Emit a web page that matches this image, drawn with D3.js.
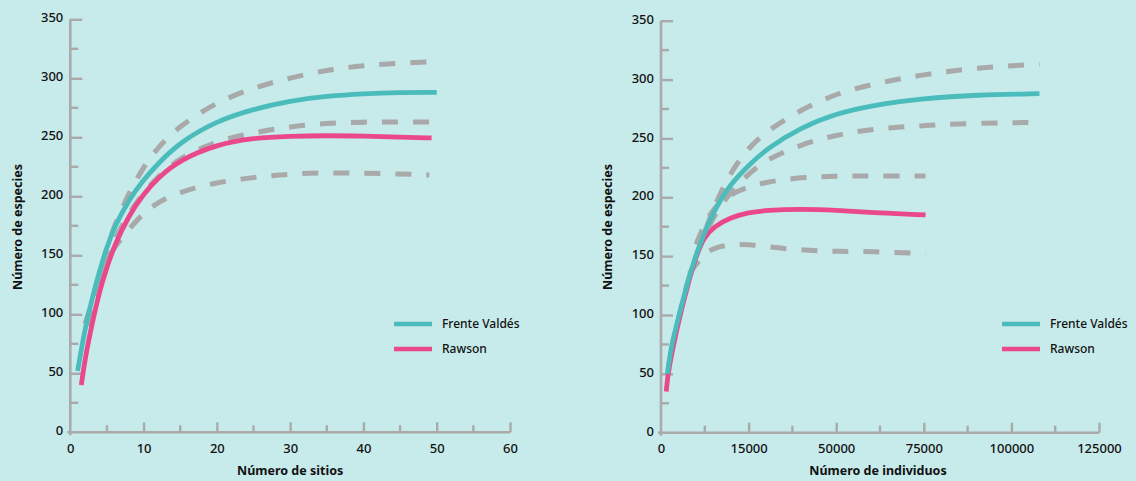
<!DOCTYPE html>
<html>
<head>
<meta charset="utf-8">
<script src="https://cdn.jsdelivr.net/npm/d3@7"></script>
<style>
  html, body { margin: 0; padding: 0; background: #c7eaea; }
  svg { display: block; font-family: "Noto Sans", "Open Sans", sans-serif; }
</style>
</head>
<body>
<div id="chart"></div>
<script>
// data
const yTicks = [0, 50, 100, 150, 200, 250, 300, 350]
const sitiosTicks = [0, 10, 20, 30, 40, 50, 60]
const individuosTicks = [0, 25000, 50000, 75000, 100000, 125000]
const individuosTickLabels = ["0", "15000", "50000", "75000", "100000", "125000"]
const seriesNames = ["Frente Valdés", "Rawson"]

// panel 1: número de sitios
const sitiosValdes = [[1,52],[2,88],[3,114],[4,137],[5,157],[6,174],[8,197],[10,214],[12,228],[15,246],[20,264],[25,274],[30,281],[35,285],[40,287],[45,288],[50,288]]
const sitiosRawson = [[1.5,40],[2,62],[3,93],[4,120],[5,140],[6,158],[8,184],[10,202],[12,216],[15,231],[20,244],[25,249.5],[30,251],[35,251.5],[40,251],[45,250],[49.3,249.5]]
const sitiosUpper = [[2,92],[3,110],[4,135],[5,157],[6,175],[8,203],[10,225],[12,242],[15,260],[20,280],[25,292],[30,300.5],[35,307],[40,311],[45,313],[50,314]]
const sitiosMiddle = [[2.5,90],[3,108],[4,133],[5,150],[6,163],[8,186],[10,203],[12,217],[15,233],[20,247],[25,254],[30,259],[35,262],[40,263],[45,263],[50,263]]
const sitiosLower = [[4,128],[5,145],[6,157],[8,172],[10,186],[12,195],[15,204],[20,212],[25,216],[30,219],[35,220],[40,219.5],[45,219],[49,218]]

// panel 2: número de individuos
const indivValdes = [[1800,50],[3000,75],[5000,98],[7500,127],[10000,152],[15000,189],[20000,212],[25000,227],[30000,241],[40000,259.5],[50000,271],[60000,278],[75000,284],[90000,287],[108000,288]]
const indivRawson = [[1500,35],[2000,52],[5000,95],[7500,124],[10000,150],[12000,165],[15000,175],[20000,183],[25000,187],[30000,189],[40000,190],[50000,189],[60000,187],[75500,185]]
const indivUpper = [[3000,70],[5000,98],[7500,128],[10000,150],[15000,192],[20000,222],[25000,242],[30000,256],[40000,274.5],[50000,288],[60000,296],[75000,304.5],[90000,310],[108000,313]]
const indivMiddle = [[10000,150],[15000,185],[20000,205],[25000,220],[30000,232],[40000,245],[50000,253],[60000,258],[75000,261],[90000,263],[106000,263.5]]
const indivLowerUpper = [[10000,160],[12500,178],[15000,191],[20000,203],[25000,209],[30000,213],[40000,217],[50000,218],[60000,218],[75500,218]]
const indivLower = [[8000,135],[10000,143],[12500,152],[15000,157],[20000,160],[25000,160],[30000,158],[40000,155],[50000,154],[60000,154],[75500,152]]

const colors = { valdes: "#4bbcbc", rawson: "#ea488a", dash: "#a9a9a9", axis: "#aaaaaa", text: "#111" }

const width = 1136
const height = 481

const svg = d3.select("#chart")
  .append("svg")
    .attr("width", width)
    .attr("height", height)

svg.append("rect")
  .attr("width", width)
  .attr("height", height)
  .attr("fill", "#c7eaea")

function drawPanel(cfg) {
  const xScale = d3.scaleLinear()
    .domain(cfg.xDomain)
    .range([cfg.left, cfg.right])

  const yScale = d3.scaleLinear()
    .domain([0, 350])
    .range([cfg.bottom, cfg.top])

  const g = svg.append("g")

  // axis lines
  g.append("line")
    .attr("x1", cfg.left).attr("x2", cfg.left)
    .attr("y1", cfg.top).attr("y2", cfg.bottom + 3)
    .attr("stroke", colors.axis).attr("stroke-width", 2.6)
  g.append("line")
    .attr("x1", cfg.left - 3).attr("x2", cfg.right)
    .attr("y1", cfg.bottom).attr("y2", cfg.bottom)
    .attr("stroke", colors.axis).attr("stroke-width", 2.6)

  // minor ticks
  const yMinor = d3.range(25, 350, 50)
  g.selectAll(".yminor")
    .data(yMinor)
    .join("line")
      .attr("x1", cfg.left).attr("x2", cfg.left + 8)
      .attr("y1", d => yScale(d)).attr("y2", d => yScale(d))
      .attr("stroke", colors.axis).attr("stroke-width", 2.4)

  const step = cfg.xTicks[1] - cfg.xTicks[0]
  const xMinor = cfg.xTicks.slice(0, -1).map(d => d + step / 2)
  g.selectAll(".xminor")
    .data(xMinor)
    .join("line")
      .attr("x1", d => xScale(d)).attr("x2", d => xScale(d))
      .attr("y1", cfg.bottom).attr("y2", cfg.bottom - 7)
      .attr("stroke", colors.axis).attr("stroke-width", 2.4)

  // major ticks + labels
  const yAxis = g.append("g")
    .attr("transform", `translate(${cfg.left},0)`)
    .call(d3.axisLeft(yScale).tickValues(yTicks).tickSize(-12).tickPadding(7))
  yAxis.select(".domain").remove()
  yAxis.selectAll(".tick line").attr("stroke", colors.axis).attr("stroke-width", 2.4)
  yAxis.selectAll(".tick text")
    .attr("dy", "0.2em")
    .attr("fill", colors.text)
    .style("font-size", "13px")
    .style("font-weight", 500)
    .style("font-family", "'Noto Sans', sans-serif")
  yAxis.selectAll(".tick").filter(d => d === 0).select("line").remove()

  const xAxis = g.append("g")
    .attr("transform", `translate(0,${cfg.bottom})`)
    .call(d3.axisBottom(xScale).tickValues(cfg.xTicks).tickSize(-10).tickPadding(11)
      .tickFormat((d, i) => cfg.xLabels[i]))
  xAxis.select(".domain").remove()
  xAxis.selectAll(".tick line").attr("stroke", colors.axis).attr("stroke-width", 2.4)
  xAxis.selectAll(".tick text")
    .attr("fill", colors.text)
    .style("font-size", "13px")
    .style("font-weight", 500)
    .style("font-family", "'Noto Sans', sans-serif")
  xAxis.selectAll(".tick").filter(d => d === 0).select("line").remove()

  // axis titles
  g.append("text")
    .attr("x", (cfg.left + cfg.right) / 2 - cfg.titleShift)
    .attr("y", 475)
    .attr("text-anchor", "middle")
    .attr("fill", colors.text)
    .style("font-size", "12.5px")
    .style("font-weight", 700)
    .text(cfg.xTitle)

  g.append("text")
    .attr("transform", `translate(${cfg.yTitleX},227) rotate(-90)`)
    .attr("text-anchor", "middle")
    .attr("dy", "0.35em")
    .attr("fill", colors.text)
    .style("font-size", "12.5px")
    .style("font-weight", 700)
    .text("Número de especies")

  // lines
  const line = d3.line()
    .x(d => xScale(d[0]))
    .y(d => yScale(d[1]))
    .curve(d3.curveBasis)

  cfg.dashed.forEach(s => {
    g.append("path")
      .attr("d", line(s))
      .attr("fill", "none")
      .attr("stroke", colors.dash)
      .attr("stroke-width", 5)
      .attr("stroke-dasharray", "16,15")
  })

  g.append("path")
    .attr("d", line(cfg.rawson))
    .attr("fill", "none")
    .attr("stroke", colors.rawson)
    .attr("stroke-width", 4.8)

  g.append("path")
    .attr("d", line(cfg.valdes))
    .attr("fill", "none")
    .attr("stroke", colors.valdes)
    .attr("stroke-width", 4.8)

  // legend
  const legend = g.append("g")
    .attr("transform", `translate(${cfg.legendX},324)`)
  const items = legend.selectAll("g")
    .data(seriesNames)
    .join("g")
      .attr("transform", (d, i) => `translate(0,${i * 25})`)
  items.append("line")
    .attr("x1", 0).attr("x2", 38)
    .attr("stroke", (d, i) => i === 0 ? colors.valdes : colors.rawson)
    .attr("stroke-width", 4.7)
  items.append("text")
    .attr("x", 48)
    .attr("dy", "0.35em")
    .attr("fill", colors.text)
    .style("font-size", "12px")
    .style("font-weight", 500)
    .text(d => d)
}

drawPanel({
  left: 70.3, right: 510, top: 19.3, bottom: 432.3,
  xDomain: [0, 60],
  xTicks: sitiosTicks,
  xLabels: sitiosTicks.map(String),
  xTitle: "Número de sitios",
  titleShift: 0,
  yTitleX: 18,
  legendX: 394,
  valdes: sitiosValdes,
  rawson: sitiosRawson,
  dashed: [sitiosUpper, sitiosMiddle, sitiosLower]
})

drawPanel({
  left: 661, right: 1099, top: 20.7, bottom: 432.7,
  xDomain: [0, 125000],
  xTicks: individuosTicks,
  xLabels: individuosTickLabels,
  xTitle: "Número de individuos",
  titleShift: 2,
  yTitleX: 608,
  legendX: 1002,
  valdes: indivValdes,
  rawson: indivRawson,
  dashed: [indivUpper, indivMiddle, indivLowerUpper, indivLower]
})
</script>
</body>
</html>
